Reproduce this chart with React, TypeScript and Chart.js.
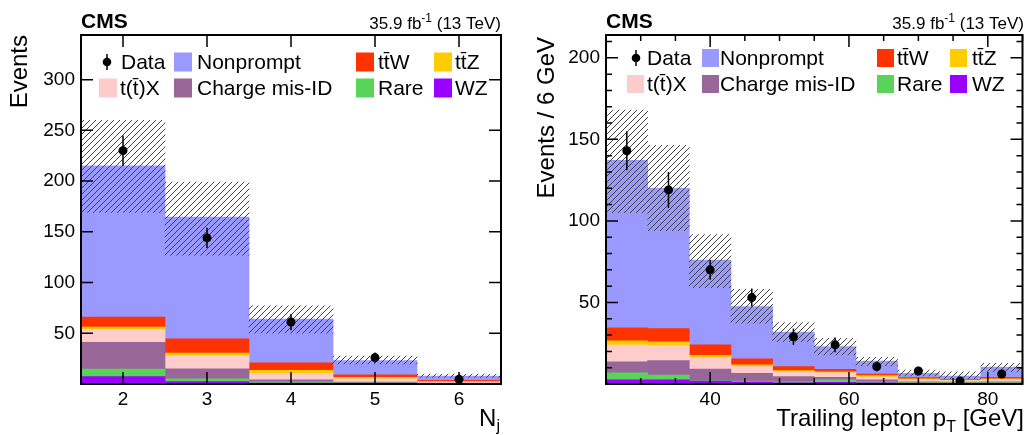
import React, { useEffect, useRef } from 'react';
import { Chart, registerables } from 'chart.js';

Chart.register(...registerables);

const FONT = "'Liberation Sans', Arial, Helvetica, sans-serif";

// ---------- colours ----------
const C_NP = '#9999ff';
const C_TTW = '#ff3300';
const C_TTZ = '#ffcc00';
const C_TTX = '#ffcccc';
const C_CMID = '#996699';
const C_RARE = '#58d458';
const C_WZ = '#9900ff';

// ---------- left panel : jet multiplicity ----------
const njBins = [2, 3, 4, 5, 6];
const njWZ = [7.2, 2.3, 1.0, 0.4, 0.2];
const njRare = [7.6, 2.7, 1.2, 0.5, 0.3];
const njChargeMisID = [26.3, 10.0, 2.0, 1.0, 0.3];
const njTTX = [12.9, 13.0, 6.0, 3.3, 1.2];
const njTTZ = [2.2, 2.5, 3.2, 1.4, 0.5];
const njTTW = [9.8, 14.0, 7.5, 2.4, 1.0];
const njNonprompt = [149, 120, 43, 14, 4.4];
const njBandLow = [169, 127, 50, 19.7, 6.6];
const njBandHigh = [260, 199, 77, 27.6, 9.9];
const njData = [230, 144, 61, 26, 4.6];
const njDataErr = [15, 10, 8, 5, 2.2];
const njXTicks = [2, 3, 4, 5, 6];
const njYTicks = [50, 100, 150, 200, 250, 300];

// ---------- right panel : trailing lepton pT ----------
const ptBins = [28, 34, 40, 46, 52, 58, 64, 70, 76, 82];
const ptWZ = [2.5, 2.5, 1.8, 1.2, 0.7, 1.0, 0.7, 0.3, 0.2, 0.3];
const ptRare = [4.3, 3.0, 0.3, 0.6, 0.7, 1.5, 0.7, 0.4, 0.5, 0.4];
const ptChargeMisID = [6.8, 8.8, 7.1, 4.7, 3.1, 1.6, 1.1, 0.7, 0.5, 0.7];
const ptTTX = [10.3, 9.1, 7.0, 4.2, 2.9, 2.7, 1.8, 1.2, 0.9, 1.3];
const ptTTZ = [2.6, 2.4, 1.4, 1.0, 0.8, 0.6, 0.8, 0.5, 0.3, 0.5];
const ptTTW = [8.0, 8.2, 6.4, 3.7, 2.5, 1.6, 1.0, 0.8, 0.5, 0.9];
const ptNonprompt = [102.6, 86, 52, 32, 21.1, 14, 8, 2.7, 2.0, 6.2];
const ptBandLow = [105, 94, 59, 37.3, 26, 17.8, 11.3, 4.9, 3.3, 7.6];
const ptBandHigh = [168, 146.4, 91.6, 58, 37.7, 28, 16.4, 8.6, 7.4, 12.7];
const ptData = [143, 119, 70, 53, 29, 24, 10.7, 8, 1.8, 6.1];
const ptDataErr = [12, 11, 6, 5.5, 5, 4.5, 3, 2.5, 1.5, 2];
const ptXTicks = [40, 60, 80];
const ptXMinor = [30, 35, 45, 50, 55, 65, 70, 75, 85];
const ptYTicks = [50, 100, 150, 200];
const ptYMinor = [10, 20, 30, 40, 60, 70, 80, 90, 110, 120, 130, 140, 160, 170, 180, 190, 210];

// ---------- labels ----------
const L_DATA = 'Data';
const L_NP = 'Nonprompt';
const L_TTW = 'tt\u0304W';
const L_TTZ = 'tt\u0304Z';
const L_TTX = 't(t\u0304)X';
const L_CMID = 'Charge mis-ID';
const L_RARE = 'Rare';
const L_WZ = 'WZ';

type Stack = { label: string; color: string; values: number[] };
type TextPart = { t: string; size: number; dy: number };
type LegendItem = { kind: 'data' | 'box'; label: string; color: string; bx: number; tx: number; row: number };

interface PanelCfg {
  canvasLeft: number;
  canvasWidth: number;
  yAxisWidth: number;
  padRight: number;
  bins: number[];
  stacks: Stack[];
  bandLow: number[];
  bandHigh: number[];
  data: number[];
  dataErr: number[];
  xMin: number;
  xMax: number;
  yMax: number;
  xTicks: number[];
  xMinor: number[];
  yTicks: number[];
  yMinor: number[];
  yTitle: string;
  yTitleX: number;
  yTitleTop: number;
  yTitleSize: number;
  xTitle: TextPart[];
  xTitleRight: number;
  lumiRight: number;
  legendRows: number[];
  legendBox: [number, number];
  legend: LegendItem[];
}

function makeStacks(wz: number[], rare: number[], cmid: number[], ttx: number[], ttz: number[], ttw: number[], np: number[]): Stack[] {
  return [
    { label: L_WZ, color: C_WZ, values: wz },
    { label: L_RARE, color: C_RARE, values: rare },
    { label: L_CMID, color: C_CMID, values: cmid },
    { label: L_TTX, color: C_TTX, values: ttx },
    { label: L_TTZ, color: C_TTZ, values: ttz },
    { label: L_TTW, color: C_TTW, values: ttw },
    { label: L_NP, color: C_NP, values: np },
  ];
}

function legendItems(cols: number[][], row2First: [number, number]): LegendItem[] {
  return [
    { kind: 'data', label: L_DATA, color: '#000', bx: cols[0][0], tx: cols[0][1], row: 0 },
    { kind: 'box', label: L_NP, color: C_NP, bx: cols[1][0], tx: cols[1][1], row: 0 },
    { kind: 'box', label: L_TTW, color: C_TTW, bx: cols[2][0], tx: cols[2][1], row: 0 },
    { kind: 'box', label: L_TTZ, color: C_TTZ, bx: cols[3][0], tx: cols[3][1], row: 0 },
    { kind: 'box', label: L_TTX, color: C_TTX, bx: row2First[0], tx: row2First[1], row: 1 },
    { kind: 'box', label: L_CMID, color: C_CMID, bx: cols[1][0], tx: cols[1][1], row: 1 },
    { kind: 'box', label: L_RARE, color: C_RARE, bx: cols[2][0], tx: cols[2][1], row: 1 },
    { kind: 'box', label: L_WZ, color: C_WZ, bx: cols[3][0], tx: cols[3][1], row: 1 },
  ];
}

const leftCfg: PanelCfg = {
  canvasLeft: 0,
  canvasWidth: 513,
  yAxisWidth: 81,
  padRight: 12,
  bins: njBins,
  stacks: makeStacks(njWZ, njRare, njChargeMisID, njTTX, njTTZ, njTTW, njNonprompt),
  bandLow: njBandLow,
  bandHigh: njBandHigh,
  data: njData,
  dataErr: njDataErr,
  xMin: 1.5,
  xMax: 6.5,
  yMax: 344,
  xTicks: njXTicks,
  xMinor: [],
  yTicks: njYTicks,
  yMinor: [],
  yTitle: 'Events',
  yTitleX: 27,
  yTitleTop: 35,
  yTitleSize: 24,
  xTitle: [
    { t: 'N', size: 24, dy: 0 },
    { t: 'j', size: 16, dy: 5 },
  ],
  xTitleRight: 500,
  lumiRight: 501,
  legendRows: [62, 88],
  legendBox: [18, 19],
  legend: legendItems([[107, 121], [174, 197], [356, 378], [434, 455]], [99, 120]),
};

const rightCfg: PanelCfg = {
  canvasLeft: 513,
  canvasWidth: 514,
  yAxisWidth: 93,
  padRight: 2,
  bins: ptBins,
  stacks: makeStacks(ptWZ, ptRare, ptChargeMisID, ptTTX, ptTTZ, ptTTW, ptNonprompt),
  bandLow: ptBandLow,
  bandHigh: ptBandHigh,
  data: ptData,
  dataErr: ptDataErr,
  xMin: 25,
  xMax: 85,
  yMax: 214,
  xTicks: ptXTicks,
  xMinor: ptXMinor,
  yTicks: ptYTicks,
  yMinor: ptYMinor,
  yTitle: 'Events / 6 GeV',
  yTitleX: 41,
  yTitleTop: 37,
  yTitleSize: 24,
  xTitle: [
    { t: 'Trailing lepton p', size: 24, dy: 0 },
    { t: 'T', size: 16, dy: 6 },
    { t: ' [GeV]', size: 24, dy: 0 },
  ],
  xTitleRight: 511,
  lumiRight: 511,
  legendRows: [58, 84],
  legendBox: [17, 18],
  legend: legendItems([[123, 134], [189, 207], [364, 384], [437, 459]], [114, 134]),
};

function makeHatch(): CanvasPattern | string {
  const c = document.createElement('canvas');
  c.width = 6;
  c.height = 6;
  const g = c.getContext('2d');
  if (!g) return 'rgba(0,0,0,0.3)';
  g.strokeStyle = '#444';
  g.lineWidth = 1;
  g.beginPath();
  g.moveTo(0, 6);
  g.lineTo(6, 0);
  g.moveTo(-1, 1);
  g.lineTo(1, -1);
  g.moveTo(5, 7);
  g.lineTo(7, 5);
  g.stroke();
  return g.createPattern(c, 'repeat') || 'rgba(0,0,0,0.3)';
}

function font(size: number, bold = false) {
  return `${bold ? 'bold ' : ''}${size}px ${FONT}`;
}

function drawParts(ctx: CanvasRenderingContext2D, parts: TextPart[], right: number, baseline: number) {
  let total = 0;
  const widths = parts.map((p) => {
    ctx.font = font(p.size);
    const w = ctx.measureText(p.t).width;
    total += w;
    return w;
  });
  let x = right - total;
  ctx.textAlign = 'left';
  ctx.textBaseline = 'alphabetic';
  parts.forEach((p, i) => {
    ctx.font = font(p.size);
    ctx.fillText(p.t, x, baseline + p.dy);
    x += widths[i];
  });
}

function panelPlugin(cfg: PanelCfg) {
  return {
    id: 'cmsPanel',
    afterDatasetsDraw(chart: any) {
      const ctx: CanvasRenderingContext2D = chart.ctx;
      const xs = chart.scales.x;
      const ys = chart.scales.y;
      ctx.save();
      ctx.strokeStyle = '#000';
      ctx.lineWidth = 1.5;
      cfg.bins.forEach((b, i) => {
        const px = xs.getPixelForValue(b);
        const y1 = ys.getPixelForValue(Math.max(0, cfg.data[i] - cfg.dataErr[i]));
        const y2 = ys.getPixelForValue(cfg.data[i] + cfg.dataErr[i]);
        ctx.beginPath();
        ctx.moveTo(px, y1);
        ctx.lineTo(px, y2);
        ctx.stroke();
      });
      ctx.restore();
    },
    afterDraw(chart: any) {
      const ctx: CanvasRenderingContext2D = chart.ctx;
      const { left, right, top, bottom } = chart.chartArea;
      const xs = chart.scales.x;
      const ys = chart.scales.y;
      ctx.save();
      ctx.fillStyle = '#000';
      ctx.strokeStyle = '#000';

      // ticks (inside, on all four sides)
      ctx.lineWidth = 1.5;
      const xTick = (v: number, len: number) => {
        const px = xs.getPixelForValue(v);
        ctx.beginPath();
        ctx.moveTo(px, bottom);
        ctx.lineTo(px, bottom - len);
        ctx.moveTo(px, top);
        ctx.lineTo(px, top + len);
        ctx.stroke();
      };
      const yTick = (v: number, len: number) => {
        const py = ys.getPixelForValue(v);
        ctx.beginPath();
        ctx.moveTo(left, py);
        ctx.lineTo(left + len, py);
        ctx.moveTo(right, py);
        ctx.lineTo(right - len, py);
        ctx.stroke();
      };
      cfg.xTicks.forEach((v) => xTick(v, 12));
      cfg.xMinor.forEach((v) => xTick(v, 6));
      cfg.yTicks.forEach((v) => yTick(v, 12));
      cfg.yMinor.forEach((v) => yTick(v, 6));

      // frame
      ctx.lineWidth = 2;
      ctx.strokeRect(left, top, right - left, bottom - top);

      // CMS label
      ctx.font = font(21, true);
      ctx.textAlign = 'left';
      ctx.textBaseline = 'alphabetic';
      ctx.fillText('CMS', left, 28);

      // luminosity label
      drawParts(
        ctx,
        [
          { t: '35.9 fb', size: 17, dy: 0 },
          { t: '-1', size: 12, dy: -7 },
          { t: ' (13 TeV)', size: 17, dy: 0 },
        ],
        cfg.lumiRight,
        29
      );

      // x-axis title
      drawParts(ctx, cfg.xTitle, cfg.xTitleRight, 426);

      // y-axis title
      ctx.save();
      ctx.translate(cfg.yTitleX, cfg.yTitleTop);
      ctx.rotate(-Math.PI / 2);
      ctx.font = font(cfg.yTitleSize);
      ctx.textAlign = 'right';
      ctx.textBaseline = 'alphabetic';
      ctx.fillText(cfg.yTitle, 0, 0);
      ctx.restore();

      // legend
      const [bw, bh] = cfg.legendBox;
      ctx.font = font(21);
      ctx.textAlign = 'left';
      ctx.textBaseline = 'middle';
      cfg.legend.forEach((it) => {
        const cy = cfg.legendRows[it.row];
        if (it.kind === 'data') {
          ctx.lineWidth = 1.5;
          ctx.beginPath();
          ctx.moveTo(it.bx, cy - 8);
          ctx.lineTo(it.bx, cy + 8);
          ctx.stroke();
          ctx.beginPath();
          ctx.arc(it.bx, cy, 4.3, 0, Math.PI * 2);
          ctx.fill();
        } else {
          ctx.fillStyle = it.color;
          ctx.fillRect(it.bx, cy - bh / 2, bw, bh);
          ctx.fillStyle = '#000';
        }
        ctx.fillText(it.label, it.tx, cy + 1);
      });
      ctx.restore();
    },
  };
}

function Panel({ cfg }: { cfg: PanelCfg }) {
  const ref = useRef<HTMLCanvasElement>(null);
  useEffect(() => {
    if (!ref.current) return;
    const hatch = makeHatch();
    const barCommon = {
      type: 'bar' as const,
      grouped: false,
      categoryPercentage: 1,
      barPercentage: 1,
      borderWidth: 0,
    };
    const datasets: any[] = [
      {
        type: 'scatter',
        label: L_DATA,
        data: cfg.bins.map((x, i) => ({ x, y: cfg.data[i] })),
        yAxisID: 'yOver',
        backgroundColor: '#000',
        borderColor: '#000',
        pointRadius: 4.5,
        pointBorderWidth: 0,
        order: 0,
      },
      {
        ...barCommon,
        label: 'Uncertainty',
        data: cfg.bins.map((x, i) => ({ x, y: [cfg.bandLow[i], cfg.bandHigh[i]] })),
        yAxisID: 'yOver',
        backgroundColor: hatch,
        order: 1,
      },
      ...cfg.stacks.map((s) => ({
        ...barCommon,
        label: s.label,
        data: cfg.bins.map((x, i) => ({ x, y: s.values[i] })),
        yAxisID: 'y',
        stack: 'mc',
        backgroundColor: s.color,
        order: 2,
      })),
    ];
    const tickFont = { family: FONT, size: 19 };
    const chart = new Chart(ref.current, {
      type: 'bar',
      data: { datasets },
      options: {
        responsive: false,
        maintainAspectRatio: false,
        animation: false,
        events: [],
        layout: { padding: { left: 0, right: cfg.padRight, top: 35, bottom: 0 } },
        plugins: {
          legend: { display: false },
          tooltip: { enabled: false },
        },
        scales: {
          x: {
            type: 'linear',
            min: cfg.xMin,
            max: cfg.xMax,
            offset: false,
            grid: { display: false, drawTicks: false },
            border: { display: false },
            ticks: {
              font: tickFont,
              color: '#000',
              padding: 4,
              autoSkip: false,
              maxRotation: 0,
              callback: (v: any) => String(v),
            },
            afterBuildTicks: (scale: any) => {
              scale.ticks = cfg.xTicks.map((v) => ({ value: v }));
            },
            afterFit: (scale: any) => {
              scale.height = 51;
            },
          },
          y: {
            type: 'linear',
            stacked: true,
            min: 0,
            max: cfg.yMax,
            grid: { display: false, drawTicks: false },
            border: { display: false },
            ticks: {
              font: tickFont,
              color: '#000',
              padding: 6,
              autoSkip: false,
              callback: (v: any) => String(v),
            },
            afterBuildTicks: (scale: any) => {
              scale.ticks = cfg.yTicks.map((v) => ({ value: v }));
            },
            afterFit: (scale: any) => {
              scale.width = cfg.yAxisWidth;
            },
          },
          yOver: {
            type: 'linear',
            display: false,
            stacked: false,
            min: 0,
            max: cfg.yMax,
          },
        },
      } as any,
      plugins: [panelPlugin(cfg) as any],
    });
    return () => chart.destroy();
  }, [cfg]);
  return (
    <canvas
      ref={ref}
      width={cfg.canvasWidth}
      height={435}
      style={{ position: 'absolute', left: cfg.canvasLeft, top: 0, width: cfg.canvasWidth, height: 435 }}
    />
  );
}

export default function App() {
  useEffect(() => {
    document.body.style.margin = '0';
  }, []);
  return (
    <div style={{ position: 'absolute', left: 0, top: 0, width: 1027, height: 435, background: '#fff', overflow: 'hidden' }}>
      <Panel cfg={leftCfg} />
      <Panel cfg={rightCfg} />
    </div>
  );
}
